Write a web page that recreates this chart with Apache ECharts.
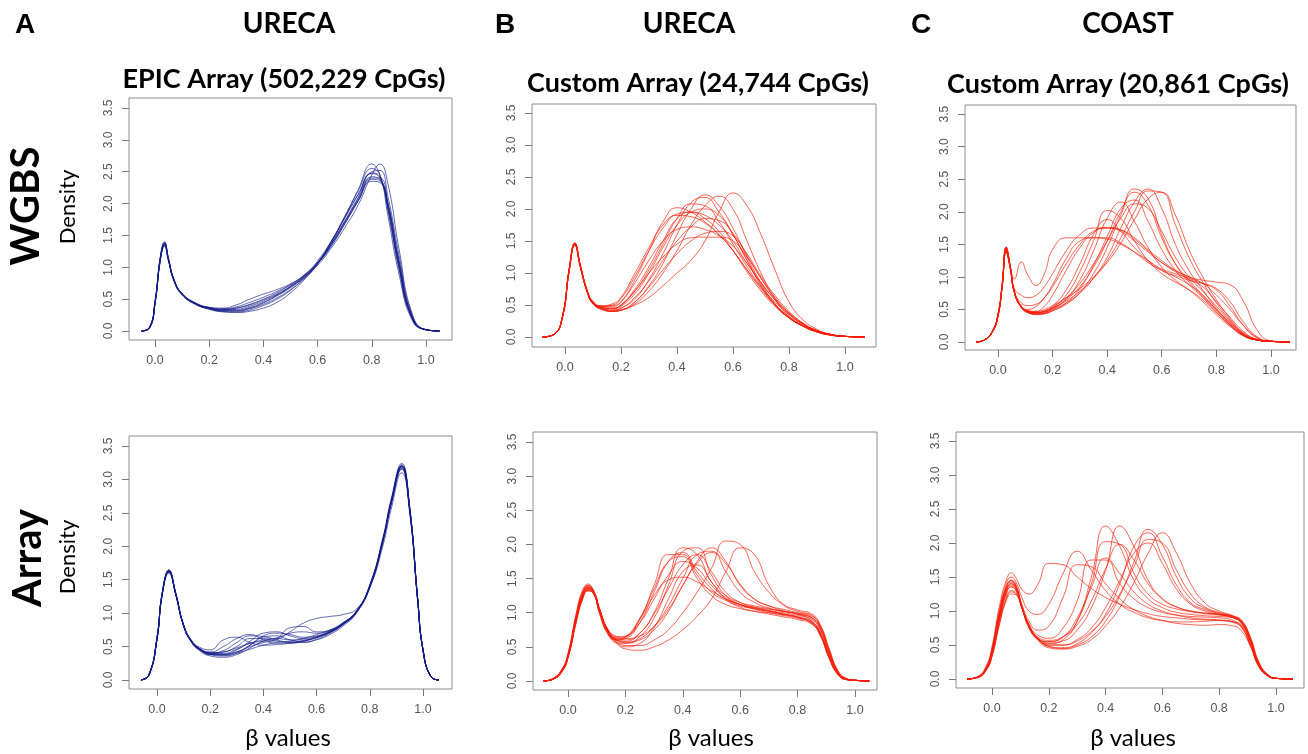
<!DOCTYPE html>
<html><head><meta charset="utf-8">
<script src="https://cdn.jsdelivr.net/npm/echarts@6/dist/echarts.min.js"></script>
<style>html,body{margin:0;padding:0;background:#fff}#c{width:1308px;height:754px}</style>
</head><body><div id="c"></div>
<script>
// ---------- tick labels ----------
const Y_TICKS = [0, 0.5, 1, 1.5, 2, 2.5, 3, 3.5];
const X_TICKS = [0, 0.2, 0.4, 0.6, 0.8, 1.0];

// ---------- Panel A, WGBS (EPIC array CpGs) ----------
const X_A_WGBS = [-0.05,-0.02,0,0.02,0.035,0.05,0.07,0.1,0.15,0.2,0.25,0.3,0.35,0.4,0.45,0.5,0.55,0.6,0.65,0.7,0.75,0.8,0.83,0.86,0.9,0.95,1.0,1.05];
const A_WGBS = [
 [0,0.06,0.45,1.15,1.37,1.12,0.8,0.58,0.43,0.36,0.33,0.34,0.39,0.47,0.57,0.69,0.85,1.07,1.37,1.72,2.08,2.42,2.38,1.95,1.05,0.2,0.02,0],
 [0,0.05,0.42,1.12,1.34,1.1,0.79,0.57,0.42,0.35,0.31,0.31,0.35,0.42,0.52,0.65,0.82,1.05,1.38,1.78,2.22,2.62,2.45,1.8,0.9,0.16,0.02,0],
 [0,0.06,0.46,1.17,1.39,1.13,0.81,0.59,0.44,0.37,0.34,0.36,0.41,0.49,0.58,0.7,0.84,1.03,1.3,1.62,1.98,2.45,2.62,2.3,1.3,0.26,0.02,0],
 [0,0.05,0.44,1.14,1.36,1.11,0.8,0.58,0.43,0.37,0.35,0.38,0.45,0.53,0.62,0.73,0.88,1.08,1.36,1.7,2.05,2.35,2.33,2.0,1.12,0.22,0.02,0],
 [0,0.06,0.45,1.16,1.38,1.12,0.8,0.58,0.42,0.34,0.3,0.29,0.31,0.36,0.45,0.6,0.8,1.06,1.4,1.78,2.15,2.47,2.4,1.93,1.0,0.19,0.02,0],
 [0,0.05,0.43,1.13,1.35,1.11,0.8,0.59,0.44,0.37,0.36,0.41,0.5,0.58,0.65,0.74,0.87,1.06,1.33,1.68,2.05,2.4,2.4,2.0,1.1,0.21,0.02,0],
 [0,0.06,0.46,1.18,1.4,1.14,0.81,0.58,0.43,0.36,0.33,0.33,0.37,0.45,0.56,0.7,0.87,1.1,1.41,1.77,2.14,2.48,2.42,1.92,1.02,0.19,0.02,0],
 [0,0.05,0.44,1.14,1.36,1.11,0.79,0.57,0.42,0.35,0.32,0.32,0.36,0.44,0.55,0.68,0.84,1.06,1.36,1.72,2.1,2.5,2.52,2.1,1.2,0.24,0.02,0],
 [0,0.06,0.45,1.15,1.37,1.12,0.8,0.58,0.43,0.36,0.34,0.36,0.42,0.5,0.6,0.72,0.86,1.06,1.34,1.68,2.04,2.38,2.36,1.98,1.08,0.21,0.02,0],
 [0,0.05,0.43,1.12,1.33,1.09,0.78,0.57,0.42,0.35,0.31,0.3,0.33,0.4,0.5,0.64,0.83,1.07,1.4,1.8,2.2,2.55,2.45,1.88,0.98,0.18,0.02,0]
];

// ---------- Panel A, Array ----------
const X_A_ARRAY = [-0.06,-0.03,0,0.02,0.045,0.07,0.1,0.13,0.16,0.2,0.25,0.3,0.35,0.4,0.45,0.5,0.55,0.6,0.65,0.7,0.75,0.8,0.85,0.88,0.92,0.95,0.98,1.0,1.03,1.06];
const A_ARRAY = [
 [0,0.08,0.62,1.3,1.63,1.3,0.82,0.58,0.47,0.41,0.42,0.5,0.62,0.62,0.58,0.57,0.59,0.64,0.72,0.84,1.02,1.4,2.1,2.65,3.18,2.55,1.2,0.45,0.05,0],
 [0,0.07,0.6,1.28,1.61,1.29,0.82,0.59,0.49,0.45,0.6,0.64,0.56,0.52,0.53,0.55,0.58,0.64,0.73,0.85,1.03,1.42,2.12,2.68,3.22,2.58,1.22,0.46,0.05,0],
 [0,0.08,0.63,1.31,1.65,1.31,0.81,0.56,0.44,0.36,0.34,0.38,0.48,0.58,0.62,0.6,0.6,0.64,0.71,0.83,1.01,1.38,2.08,2.62,3.15,2.52,1.18,0.44,0.05,0],
 [0,0.07,0.61,1.29,1.62,1.3,0.82,0.57,0.45,0.38,0.38,0.45,0.58,0.7,0.72,0.66,0.62,0.65,0.72,0.84,1.02,1.4,2.1,2.64,3.2,2.56,1.2,0.45,0.05,0],
 [0,0.08,0.62,1.3,1.64,1.31,0.83,0.58,0.46,0.39,0.38,0.42,0.5,0.56,0.6,0.72,0.85,0.92,0.95,0.98,1.06,1.38,2.02,2.55,3.1,2.5,1.18,0.44,0.05,0],
 [0,0.07,0.6,1.28,1.62,1.3,0.82,0.58,0.47,0.4,0.4,0.46,0.55,0.58,0.62,0.78,0.8,0.72,0.74,0.85,1.03,1.4,2.1,2.66,3.2,2.56,1.21,0.45,0.05,0],
 [0,0.08,0.63,1.31,1.64,1.3,0.81,0.57,0.46,0.4,0.44,0.56,0.66,0.65,0.6,0.56,0.56,0.61,0.7,0.83,1.01,1.42,2.14,2.7,3.24,2.6,1.22,0.46,0.05,0],
 [0,0.07,0.61,1.29,1.63,1.31,0.83,0.59,0.47,0.4,0.39,0.42,0.52,0.64,0.66,0.6,0.57,0.6,0.68,0.81,1.0,1.39,2.08,2.63,3.16,2.54,1.2,0.45,0.05,0],
 [0,0.08,0.62,1.3,1.62,1.29,0.81,0.57,0.46,0.39,0.37,0.4,0.46,0.52,0.56,0.58,0.62,0.68,0.75,0.86,1.03,1.41,2.11,2.66,3.2,2.57,1.21,0.45,0.05,0],
 [0,0.07,0.6,1.28,1.6,1.28,0.81,0.58,0.47,0.42,0.5,0.62,0.68,0.6,0.55,0.55,0.58,0.63,0.71,0.84,1.02,1.4,2.09,2.64,3.17,2.55,1.2,0.45,0.05,0],
 [0,0.08,0.62,1.3,1.63,1.3,0.82,0.58,0.46,0.38,0.36,0.4,0.52,0.66,0.7,0.68,0.64,0.66,0.73,0.85,1.02,1.4,2.1,2.65,3.19,2.56,1.2,0.45,0.05,0],
 [0,0.07,0.61,1.29,1.62,1.3,0.82,0.58,0.47,0.4,0.42,0.48,0.55,0.6,0.63,0.7,0.72,0.7,0.74,0.85,1.03,1.41,2.11,2.66,3.2,2.57,1.21,0.45,0.05,0]
];

// ---------- Panel B, WGBS (UREca custom) ----------
const X_B_WGBS = [-0.08,-0.04,-0.01,0.015,0.035,0.055,0.08,0.1,0.13,0.17,0.2,0.25,0.3,0.35,0.4,0.45,0.5,0.55,0.6,0.65,0.7,0.75,0.8,0.85,0.9,0.95,1.0,1.07];
const B_WGBS = [
 [0,0.04,0.31,1.07,1.47,1.12,0.72,0.56,0.48,0.48,0.55,0.9,1.35,1.8,2.02,1.95,1.8,1.6,1.35,1.05,0.78,0.55,0.35,0.2,0.1,0.04,0.01,0],
 [0,0.04,0.29,1.03,1.43,1.08,0.69,0.52,0.45,0.4,0.42,0.5,0.62,0.8,1.0,1.2,1.5,1.95,2.25,2.05,1.6,1.05,0.55,0.27,0.12,0.04,0.01,0],
 [0,0.04,0.3,1.05,1.45,1.1,0.7,0.53,0.45,0.42,0.45,0.6,0.9,1.3,1.75,2.1,2.18,1.95,1.6,1.2,0.8,0.5,0.3,0.17,0.08,0.03,0.01,0],
 [0,0.04,0.3,1.06,1.46,1.11,0.7,0.52,0.43,0.4,0.42,0.55,0.8,1.15,1.6,2.0,2.22,2.05,1.7,1.25,0.85,0.52,0.3,0.17,0.08,0.03,0.01,0],
 [0,0.04,0.29,1.04,1.44,1.09,0.69,0.52,0.44,0.4,0.42,0.52,0.72,1.0,1.35,1.75,2.05,2.2,2.0,1.5,1.0,0.6,0.32,0.17,0.08,0.03,0.01,0],
 [0,0.04,0.3,1.05,1.45,1.1,0.7,0.53,0.46,0.45,0.5,0.75,1.1,1.5,1.85,1.95,1.9,1.75,1.5,1.15,0.85,0.58,0.36,0.2,0.1,0.04,0.01,0],
 [0,0.04,0.31,1.06,1.46,1.11,0.71,0.54,0.46,0.45,0.5,0.72,1.0,1.25,1.45,1.55,1.56,1.56,1.5,1.25,0.92,0.62,0.38,0.21,0.1,0.04,0.01,0],
 [0,0.04,0.3,1.05,1.45,1.1,0.71,0.54,0.48,0.49,0.55,0.85,1.2,1.5,1.68,1.72,1.68,1.58,1.42,1.15,0.85,0.58,0.36,0.2,0.1,0.04,0.01,0],
 [0,0.04,0.3,1.06,1.46,1.11,0.71,0.54,0.48,0.5,0.6,0.95,1.35,1.7,1.92,1.95,1.85,1.65,1.35,1.02,0.72,0.48,0.3,0.17,0.08,0.03,0.01,0],
 [0,0.04,0.29,1.04,1.44,1.09,0.7,0.53,0.45,0.44,0.48,0.68,1.0,1.4,1.75,1.95,2.0,1.9,1.6,1.2,0.82,0.52,0.32,0.18,0.09,0.03,0.01,0],
 [0,0.04,0.3,1.05,1.45,1.1,0.7,0.53,0.45,0.42,0.45,0.62,0.88,1.2,1.5,1.72,1.85,1.82,1.62,1.28,0.92,0.6,0.38,0.21,0.1,0.04,0.01,0],
 [0,0.04,0.3,1.06,1.46,1.11,0.7,0.53,0.46,0.45,0.5,0.72,1.05,1.45,1.85,2.08,2.05,1.8,1.45,1.1,0.78,0.5,0.3,0.17,0.08,0.03,0.01,0],
 [0,0.04,0.31,1.07,1.47,1.12,0.72,0.55,0.49,0.52,0.62,1.0,1.4,1.75,1.9,1.88,1.78,1.6,1.35,1.05,0.75,0.5,0.32,0.18,0.09,0.03,0.01,0],
 [0,0.04,0.29,1.04,1.44,1.09,0.69,0.52,0.44,0.41,0.42,0.55,0.78,1.05,1.3,1.5,1.62,1.65,1.58,1.3,0.95,0.65,0.4,0.22,0.1,0.04,0.01,0]
];

// ---------- Panel B, Array ----------
const X_B_ARRAY = [-0.085,-0.05,-0.02,0,0.03,0.05,0.07,0.09,0.11,0.14,0.17,0.2,0.25,0.3,0.35,0.4,0.45,0.5,0.55,0.6,0.65,0.7,0.75,0.8,0.85,0.88,0.91,0.94,0.97,1.0,1.05];
const B_ARRAY = [
 [0,0.04,0.18,0.4,1.0,1.3,1.4,1.3,1.0,0.7,0.6,0.62,0.85,1.3,1.75,1.88,1.6,1.35,1.2,1.12,1.08,1.05,1.02,0.98,0.88,0.7,0.36,0.11,0.03,0.01,0],
 [0,0.03,0.16,0.37,0.95,1.25,1.38,1.32,1.05,0.75,0.65,0.66,0.9,1.4,1.85,1.85,1.55,1.3,1.18,1.1,1.06,1.02,0.98,0.94,0.84,0.66,0.33,0.1,0.02,0.01,0],
 [0,0.03,0.15,0.35,0.92,1.22,1.36,1.3,1.05,0.72,0.6,0.58,0.7,1.0,1.5,1.95,1.85,1.45,1.25,1.15,1.1,1.06,1.02,0.98,0.92,0.76,0.42,0.13,0.03,0.01,0],
 [0,0.04,0.17,0.38,0.98,1.28,1.38,1.28,1.0,0.68,0.56,0.55,0.65,0.92,1.4,1.9,1.95,1.55,1.25,1.12,1.05,1.0,0.96,0.92,0.85,0.68,0.35,0.1,0.02,0.01,0],
 [0,0.03,0.15,0.34,0.9,1.2,1.33,1.27,1.03,0.72,0.6,0.57,0.62,0.8,1.1,1.5,1.85,1.9,1.6,1.3,1.15,1.07,1.02,0.99,0.93,0.78,0.44,0.14,0.03,0.01,0],
 [0,0.04,0.17,0.38,0.97,1.27,1.4,1.32,1.05,0.75,0.65,0.62,0.66,0.8,1.05,1.4,1.75,1.95,1.75,1.4,1.2,1.1,1.05,1.0,0.95,0.8,0.46,0.15,0.03,0.01,0],
 [0,0.03,0.14,0.33,0.88,1.18,1.32,1.28,1.05,0.72,0.58,0.52,0.52,0.6,0.75,1.0,1.3,1.65,2.05,2.0,1.6,1.3,1.12,1.04,0.98,0.82,0.48,0.16,0.04,0.01,0],
 [0,0.03,0.15,0.36,0.93,1.24,1.36,1.3,1.05,0.72,0.55,0.47,0.45,0.5,0.6,0.75,0.95,1.2,1.6,1.95,1.85,1.4,1.12,1.02,0.96,0.8,0.45,0.14,0.03,0.01,0],
 [0,0.04,0.18,0.4,1.02,1.32,1.42,1.3,0.98,0.68,0.6,0.64,0.92,1.35,1.75,1.82,1.5,1.25,1.12,1.06,1.02,1.0,0.97,0.93,0.85,0.67,0.34,0.1,0.02,0.01,0],
 [0,0.03,0.16,0.37,0.95,1.25,1.35,1.27,1.02,0.72,0.63,0.65,0.85,1.2,1.55,1.75,1.65,1.4,1.22,1.12,1.06,1.02,0.98,0.94,0.87,0.7,0.37,0.12,0.03,0.01,0],
 [0,0.03,0.15,0.35,0.9,1.2,1.32,1.28,1.05,0.74,0.62,0.6,0.7,0.98,1.35,1.7,1.85,1.6,1.3,1.15,1.08,1.03,0.98,0.93,0.86,0.7,0.38,0.12,0.03,0.01,0],
 [0,0.04,0.17,0.38,0.96,1.26,1.37,1.3,1.03,0.7,0.56,0.5,0.55,0.78,1.2,1.6,1.7,1.45,1.2,1.08,1.02,0.98,0.94,0.9,0.83,0.66,0.34,0.1,0.02,0.01,0],
 [0,0.03,0.16,0.36,0.93,1.23,1.35,1.28,1.02,0.72,0.62,0.64,0.9,1.25,1.48,1.52,1.45,1.32,1.2,1.12,1.07,1.03,1.0,0.96,0.9,0.74,0.4,0.13,0.03,0.01,0],
 [0,0.03,0.15,0.35,0.91,1.21,1.34,1.28,1.04,0.73,0.6,0.56,0.6,0.75,1.02,1.4,1.72,1.88,1.72,1.42,1.2,1.1,1.03,0.98,0.92,0.76,0.42,0.13,0.03,0.01,0]
];

// ---------- Panel C, WGBS (COAST custom) ----------
const X_C_WGBS = [-0.08,-0.05,-0.02,0,0.015,0.03,0.045,0.06,0.085,0.11,0.14,0.17,0.2,0.25,0.3,0.35,0.4,0.45,0.5,0.55,0.6,0.65,0.7,0.75,0.8,0.85,0.9,0.95,1.0,1.07];
const C_WGBS = [
 [0,0.03,0.17,0.42,0.85,1.4,1.15,0.97,1.23,1.02,0.87,1.05,1.42,1.6,1.6,1.6,1.58,1.5,1.38,1.25,1.12,1.05,0.98,0.9,0.8,0.55,0.25,0.06,0.01,0],
 [0,0.03,0.16,0.4,0.84,1.38,1.15,0.82,0.72,0.68,0.72,0.85,1.05,1.4,1.65,1.75,1.75,1.7,1.55,1.38,1.22,1.1,1.0,0.9,0.72,0.5,0.25,0.07,0.01,0],
 [0,0.03,0.17,0.43,0.88,1.45,1.15,0.78,0.55,0.47,0.47,0.55,0.72,1.1,1.45,1.68,1.76,1.72,1.58,1.4,1.22,1.08,0.96,0.85,0.62,0.38,0.16,0.04,0.01,0],
 [0,0.03,0.16,0.41,0.86,1.42,1.14,0.76,0.55,0.5,0.55,0.68,0.88,1.28,1.55,1.6,1.6,1.52,1.38,1.22,1.1,1.02,0.95,0.9,0.82,0.62,0.3,0.08,0.01,0],
 [0,0.03,0.17,0.43,0.88,1.46,1.16,0.77,0.54,0.46,0.44,0.47,0.55,0.8,1.2,1.65,1.88,1.7,1.45,1.25,1.1,1.0,0.88,0.72,0.5,0.3,0.12,0.03,0.01,0],
 [0,0.03,0.16,0.4,0.85,1.42,1.14,0.76,0.53,0.45,0.43,0.45,0.52,0.72,1.08,1.55,2.02,1.9,1.55,1.25,1.05,0.92,0.8,0.65,0.45,0.26,0.1,0.03,0.01,0],
 [0,0.03,0.17,0.42,0.87,1.44,1.15,0.77,0.54,0.46,0.43,0.44,0.5,0.66,0.95,1.4,1.9,2.15,1.85,1.45,1.15,0.95,0.8,0.62,0.42,0.24,0.09,0.03,0.01,0],
 [0,0.03,0.16,0.41,0.86,1.43,1.14,0.76,0.53,0.45,0.42,0.43,0.48,0.6,0.82,1.18,1.62,2.05,2.18,1.85,1.42,1.1,0.88,0.68,0.46,0.26,0.1,0.03,0.01,0],
 [0,0.03,0.17,0.43,0.88,1.46,1.16,0.77,0.54,0.46,0.43,0.44,0.48,0.58,0.76,1.05,1.45,1.95,2.35,2.2,1.65,1.2,0.92,0.7,0.48,0.27,0.1,0.03,0.01,0],
 [0,0.03,0.16,0.4,0.84,1.4,1.13,0.76,0.54,0.47,0.45,0.47,0.52,0.65,0.85,1.15,1.55,2.0,2.3,2.1,1.6,1.2,0.95,0.72,0.5,0.28,0.11,0.03,0.01,0],
 [0,0.03,0.17,0.42,0.87,1.44,1.15,0.77,0.55,0.47,0.45,0.46,0.5,0.6,0.75,0.98,1.3,1.75,2.15,2.35,2.05,1.5,1.1,0.8,0.52,0.3,0.12,0.03,0.01,0],
 [0,0.03,0.16,0.41,0.85,1.42,1.14,0.76,0.54,0.47,0.45,0.47,0.52,0.63,0.78,0.98,1.25,1.6,2.0,2.32,2.3,1.8,1.3,0.92,0.6,0.34,0.13,0.04,0.01,0],
 [0,0.03,0.16,0.4,0.83,1.38,1.12,0.75,0.54,0.48,0.47,0.5,0.56,0.68,0.82,1.0,1.22,1.52,1.88,2.2,2.3,1.95,1.42,1.0,0.65,0.36,0.14,0.04,0.01,0],
 [0,0.03,0.17,0.42,0.86,1.44,1.15,0.77,0.55,0.48,0.46,0.48,0.54,0.68,0.9,1.2,1.55,1.9,2.12,2.05,1.7,1.3,1.0,0.78,0.55,0.32,0.12,0.03,0.01,0],
 [0,0.03,0.16,0.4,0.84,1.38,1.12,0.78,0.6,0.56,0.58,0.68,0.85,1.2,1.5,1.7,1.75,1.72,1.6,1.42,1.25,1.1,1.0,0.95,0.92,0.88,0.62,0.18,0.02,0]
];

// ---------- Panel C, Array ----------
const X_C_ARRAY = [-0.088,-0.05,-0.02,0,0.025,0.05,0.068,0.085,0.105,0.13,0.16,0.2,0.25,0.3,0.35,0.4,0.45,0.5,0.55,0.6,0.65,0.7,0.75,0.8,0.85,0.88,0.91,0.94,0.97,1.0,1.06];
const C_ARRAY = [
 [0,0.04,0.2,0.48,1.05,1.45,1.56,1.48,1.32,1.25,1.38,1.7,1.68,1.5,1.33,1.2,1.1,1.02,0.96,0.92,0.9,0.88,0.87,0.86,0.83,0.75,0.5,0.2,0.05,0.01,0],
 [0,0.03,0.18,0.45,1.0,1.4,1.5,1.42,1.2,1.0,0.95,1.1,1.55,1.88,1.6,1.3,1.1,0.98,0.9,0.86,0.84,0.84,0.85,0.86,0.84,0.78,0.53,0.2,0.05,0.01,0],
 [0,0.03,0.17,0.42,0.95,1.35,1.45,1.38,1.1,0.85,0.72,0.78,1.2,1.68,1.65,1.4,1.18,1.02,0.92,0.86,0.82,0.8,0.79,0.8,0.78,0.7,0.48,0.18,0.05,0.01,0],
 [0,0.03,0.17,0.43,0.96,1.36,1.45,1.36,1.08,0.8,0.65,0.6,0.75,1.15,1.75,1.75,1.4,1.18,1.05,0.98,0.94,0.92,0.91,0.9,0.86,0.76,0.5,0.18,0.05,0.01,0],
 [0,0.03,0.16,0.4,0.92,1.32,1.42,1.35,1.08,0.78,0.6,0.55,0.62,0.9,1.35,1.78,1.55,1.28,1.1,1.0,0.94,0.9,0.88,0.87,0.84,0.76,0.5,0.19,0.05,0.01,0],
 [0,0.03,0.17,0.42,0.95,1.35,1.44,1.35,1.05,0.75,0.58,0.52,0.58,0.85,1.5,2.25,1.95,1.45,1.18,1.05,0.98,0.95,0.93,0.92,0.9,0.8,0.55,0.2,0.06,0.01,0],
 [0,0.03,0.16,0.4,0.9,1.3,1.4,1.33,1.05,0.76,0.6,0.55,0.62,0.85,1.4,2.02,1.98,1.55,1.25,1.1,1.03,0.99,0.96,0.94,0.9,0.82,0.56,0.21,0.06,0.01,0],
 [0,0.03,0.15,0.38,0.88,1.28,1.38,1.32,1.06,0.78,0.6,0.53,0.56,0.72,1.05,1.6,2.25,1.95,1.45,1.18,1.06,1.0,0.97,0.95,0.92,0.84,0.58,0.22,0.06,0.01,0],
 [0,0.03,0.15,0.37,0.85,1.25,1.35,1.3,1.06,0.78,0.6,0.5,0.5,0.58,0.75,1.05,1.45,1.85,2.0,1.7,1.32,1.1,1.0,0.95,0.9,0.82,0.57,0.22,0.06,0.01,0],
 [0,0.03,0.14,0.35,0.82,1.2,1.3,1.27,1.06,0.8,0.6,0.48,0.46,0.52,0.68,0.95,1.4,1.95,2.15,1.8,1.38,1.12,1.02,0.96,0.9,0.83,0.58,0.23,0.07,0.01,0],
 [0,0.02,0.13,0.33,0.78,1.15,1.25,1.24,1.05,0.8,0.6,0.48,0.45,0.5,0.62,0.85,1.22,1.72,2.2,1.98,1.5,1.18,1.04,0.97,0.92,0.85,0.6,0.24,0.07,0.01,0],
 [0,0.02,0.14,0.34,0.8,1.18,1.28,1.25,1.05,0.78,0.58,0.46,0.44,0.48,0.58,0.78,1.05,1.42,1.85,2.15,1.85,1.4,1.12,1.0,0.93,0.86,0.62,0.25,0.07,0.01,0],
 [0,0.03,0.15,0.37,0.86,1.26,1.36,1.3,1.05,0.78,0.6,0.5,0.5,0.56,0.7,0.92,1.25,1.65,2.05,2.0,1.6,1.25,1.06,0.98,0.92,0.84,0.6,0.24,0.07,0.01,0],
 [0,0.03,0.16,0.39,0.9,1.3,1.4,1.33,1.06,0.78,0.62,0.57,0.62,0.8,1.15,1.62,1.98,1.75,1.4,1.18,1.06,1.0,0.97,0.95,0.9,0.82,0.56,0.21,0.06,0.01,0]
];

// ---------- layout / style (not data) ----------
const BLUE = 'rgba(18,28,135,0.66)';
const RED = 'rgba(246,28,8,0.68)';
const PANELS = [
 {x: X_A_WGBS,  curves: A_WGBS,  color: BLUE, box: [129, 98, 323, 242], xr: [-0.096, 1.096], yr: [-0.141, 3.657]},
 {x: X_A_ARRAY, curves: A_ARRAY, color: BLUE, box: [129, 436, 323, 253], xr: [-0.105, 1.109], yr: [-0.135, 3.65]},
 {x: X_B_WGBS,  curves: B_WGBS,  color: RED,  box: [532, 104, 344, 243], xr: [-0.118, 1.111], yr: [-0.156, 3.64]},
 {x: X_B_ARRAY, curves: B_ARRAY, color: RED,  box: [533, 432, 344, 258], xr: [-0.122, 1.077], yr: [-0.132, 3.646]},
 {x: X_C_WGBS,  curves: C_WGBS,  color: RED,  box: [965, 105, 331, 245], xr: [-0.121, 1.092], yr: [-0.123, 3.64]},
 {x: X_C_ARRAY, curves: C_ARRAY, color: RED,  box: [956, 432, 348, 256], xr: [-0.127, 1.099], yr: [-0.132, 3.632]}
];

const TICK_FONT = '"Liberation Sans", Arial, sans-serif';
const TITLE_FONT = 'Lato, "Open Sans", sans-serif';

const grid = [], xAxis = [], yAxis = [], series = [];
PANELS.forEach((p, gi) => {
  grid.push({left: p.box[0], top: p.box[1], width: p.box[2], height: p.box[3], show: true,
             borderColor: '#8c8c8c', borderWidth: 1, backgroundColor: 'transparent', containLabel: false});
  xAxis.push({gridIndex: gi, type: 'value', min: p.xr[0], max: p.xr[1], position: 'bottom',
    axisLine: {show: false, onZero: false}, splitLine: {show: false},
    axisTick: {show: true, customValues: X_TICKS, length: 7, lineStyle: {color: '#7a7a7a'}},
    axisLabel: {customValues: X_TICKS, margin: 14, color: '#555', fontSize: 12.5, fontFamily: TICK_FONT,
                formatter: v => v.toFixed(1)}});
  yAxis.push({gridIndex: gi, type: 'value', min: p.yr[0], max: p.yr[1], position: 'left',
    axisLine: {show: false, onZero: false}, splitLine: {show: false},
    axisTick: {show: true, customValues: Y_TICKS, length: 7, lineStyle: {color: '#7a7a7a'}},
    axisLabel: {customValues: Y_TICKS, rotate: 90, margin: 14, color: '#555', fontSize: 12, fontFamily: TICK_FONT,
                formatter: v => v.toFixed(1)}});
  p.curves.forEach(c => {
    series.push({type: 'line', xAxisIndex: gi, yAxisIndex: gi, showSymbol: false, symbol: 'none',
      smooth: 0.5, silent: true, animation: false,
      lineStyle: {color: p.color, width: 1},
      data: p.x.map((x, i) => [x, c[i]])});
  });
});

function txt(text, x, y, font, rot) {
  return {type: 'text', x: x, y: y, rotation: rot || 0, silent: true,
    style: {text: text, font: font, fill: '#000', align: 'center', verticalAlign: 'middle',
            textAlign: 'center', textVerticalAlign: 'middle'}};
}
const R90 = Math.PI / 2;
const graphic = [
  txt('A', 25, 25, 'bold 28px "Liberation Sans", Arial, sans-serif'),
  txt('B', 505, 25, 'bold 28px "Liberation Sans", Arial, sans-serif'),
  txt('C', 921, 25, 'bold 28px "Liberation Sans", Arial, sans-serif'),
  txt('URECA', 289, 24, 'bold 28px ' + TITLE_FONT),
  txt('URECA', 689, 24, 'bold 28px ' + TITLE_FONT),
  txt('COAST', 1128, 24, 'bold 28px ' + TITLE_FONT),
  txt('EPIC Array (502,229 CpGs)', 284, 79, 'bold 27px ' + TITLE_FONT),
  txt('Custom Array (24,744 CpGs)', 698, 83, 'bold 27px ' + TITLE_FONT),
  txt('Custom Array (20,861 CpGs)', 1118, 84, 'bold 27px ' + TITLE_FONT),
  txt('WGBS', 26, 206, 'bold 40px ' + TITLE_FONT, R90),
  txt('Array', 28, 558, 'bold 40px ' + TITLE_FONT, R90),
  txt('Density', 68, 207, '22px ' + TITLE_FONT, R90),
  txt('Density', 68, 557, '22px ' + TITLE_FONT, R90),
  txt('β values', 288, 738, '24px ' + TITLE_FONT),
  txt('β values', 711, 738, '24px ' + TITLE_FONT),
  txt('β values', 1133, 738, '24px ' + TITLE_FONT)
];

const chart = echarts.init(document.getElementById('c'), null, {renderer: 'canvas'});
chart.setOption({animation: false, backgroundColor: '#fff', grid, xAxis, yAxis, series, graphic});
</script>
</body></html>
